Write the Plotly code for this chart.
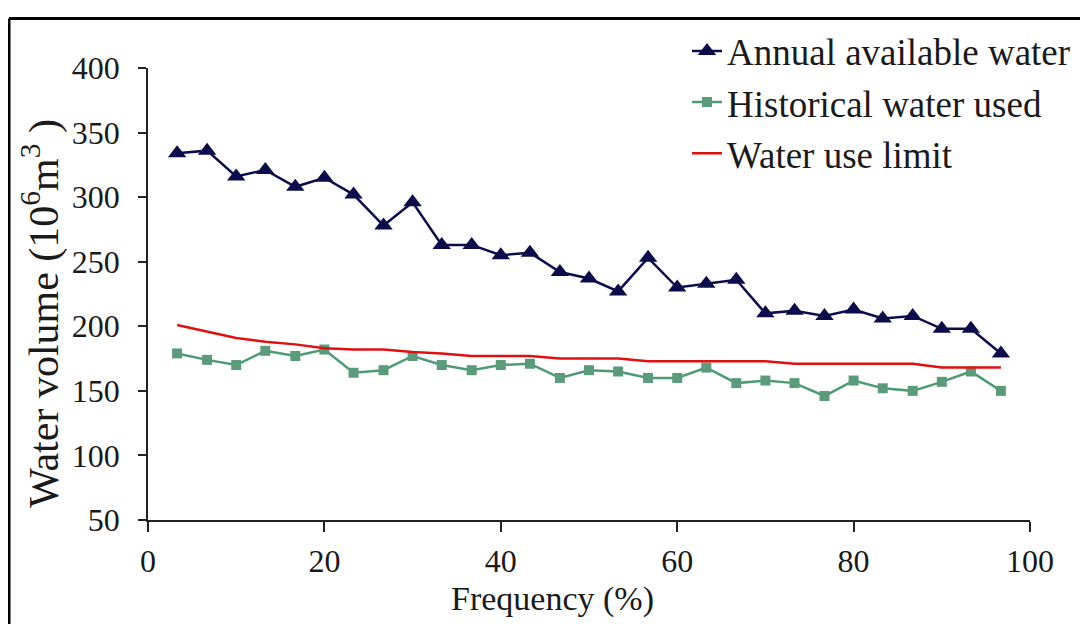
import plotly.graph_objects as go

# Data
frequency = [3.3, 6.7, 10.0, 13.3, 16.7, 20.0, 23.3, 26.7, 30.0, 33.3,
             36.7, 40.0, 43.3, 46.7, 50.0, 53.3, 56.7, 60.0, 63.3, 66.7,
             70.0, 73.3, 76.7, 80.0, 83.3, 86.7, 90.0, 93.3, 96.7]
annual_available = [334, 336, 316, 321, 308, 315, 302, 278, 296, 263,
                    263, 255, 257, 242, 237, 227, 253, 230, 233, 236,
                    210, 212, 208, 213, 206, 208, 198, 198, 179]
historical_used = [179, 174, 170, 181, 177, 182, 164, 166, 177, 170,
                   166, 170, 171, 160, 166, 165, 160, 160, 168, 156,
                   158, 156, 146, 158, 152, 150, 157, 165, 150]
use_limit = [201, 196, 191, 188, 186, 183, 182, 182, 180, 179,
             177, 177, 177, 175, 175, 175, 173, 173, 173, 173,
             173, 171, 171, 171, 171, 171, 168, 168, 168]

series_names = ["Annual available water", "Historical water used", "Water use limit"]
x_ticks = [0, 20, 40, 60, 80, 100]
y_ticks = [50, 100, 150, 200, 250, 300, 350, 400]

FONT = "Liberation Serif, Times New Roman, serif"

fig = go.Figure()
fig.add_trace(go.Scatter(
    x=frequency, y=annual_available, name=series_names[0], mode="lines+markers",
    line=dict(color="#0c0c4a", width=2.5),
    marker=dict(symbol="triangle-up", size=16, color="#0c0c4a"),
))
fig.add_trace(go.Scatter(
    x=frequency, y=historical_used, name=series_names[1], mode="lines+markers",
    line=dict(color="#4f9a76", width=2.5),
    marker=dict(symbol="square", size=10, color="#5c9a7c"),
))
fig.add_trace(go.Scatter(
    x=frequency, y=use_limit, name=series_names[2], mode="lines",
    line=dict(color="#e01010", width=2.5),
))

# The page body has an 8px margin; work in page pixels and convert.
OFF = 8
W, H = 1088 - OFF, 624 - OFF
L = 148 - OFF
T = 64 - OFF
R = W - (1030 - OFF)
B = H - (520 - OFF)
pw, ph = W - L - R, H - T - B

def px_x(p):
    return (p - OFF - L) / pw

def px_y(p):
    return 1 - (p - OFF - T) / ph

fig.update_layout(
    width=W, height=H,
    margin=dict(l=L, r=R, t=T, b=B),
    paper_bgcolor="white", plot_bgcolor="white",
    font=dict(family=FONT, color="#1a1a1a", size=32),
    showlegend=True,
    legend=dict(
        x=px_x(687), y=px_y(16), xanchor="left", yanchor="top",
        font=dict(family=FONT, size=37, color="#1a1a1a"),
        bgcolor="rgba(0,0,0,0)", tracegroupgap=0,
    ),
    xaxis=dict(
        range=[0, 100], tickvals=x_ticks, showgrid=False, zeroline=False,
        showline=True, linecolor="#222", linewidth=1.5,
        ticks="outside", ticklen=10, tickwidth=1.5, tickcolor="#222",
        tickfont=dict(family=FONT, size=32), ticklabelstandoff=2,
    ),
    yaxis=dict(
        range=[50, 400], tickvals=y_ticks, showgrid=False, zeroline=False,
        showline=True, linecolor="#222", linewidth=1.5,
        ticks="outside", ticklen=8, tickwidth=1.5, tickcolor="#222",
        tickfont=dict(family=FONT, size=32), ticklabelstandoff=12,
    ),
    shapes=[
        dict(type="line", xref="paper", yref="paper",
             x0=px_x(9), x1=px_x(1100), y0=px_y(14), y1=px_y(14),
             line=dict(color="black", width=3)),
        dict(type="line", xref="paper", yref="paper",
             x0=px_x(9), x1=px_x(9), y0=px_y(14), y1=px_y(640),
             line=dict(color="black", width=3)),
    ],
    annotations=[
        dict(text="Frequency (%)", xref="paper", yref="paper",
             x=px_x(552), y=px_y(600), xanchor="center", yanchor="middle",
             showarrow=False, font=dict(family=FONT, size=34, color="#1a1a1a")),
        dict(text="Water volume (10<sup>6</sup>m<sup>3</sup> )", xref="paper", yref="paper",
             x=px_x(41), y=px_y(312), xanchor="center", yanchor="middle",
             textangle=-90, showarrow=False,
             font=dict(family=FONT, size=42, color="#1a1a1a")),
    ],
)

fig.write_html("out.html")
